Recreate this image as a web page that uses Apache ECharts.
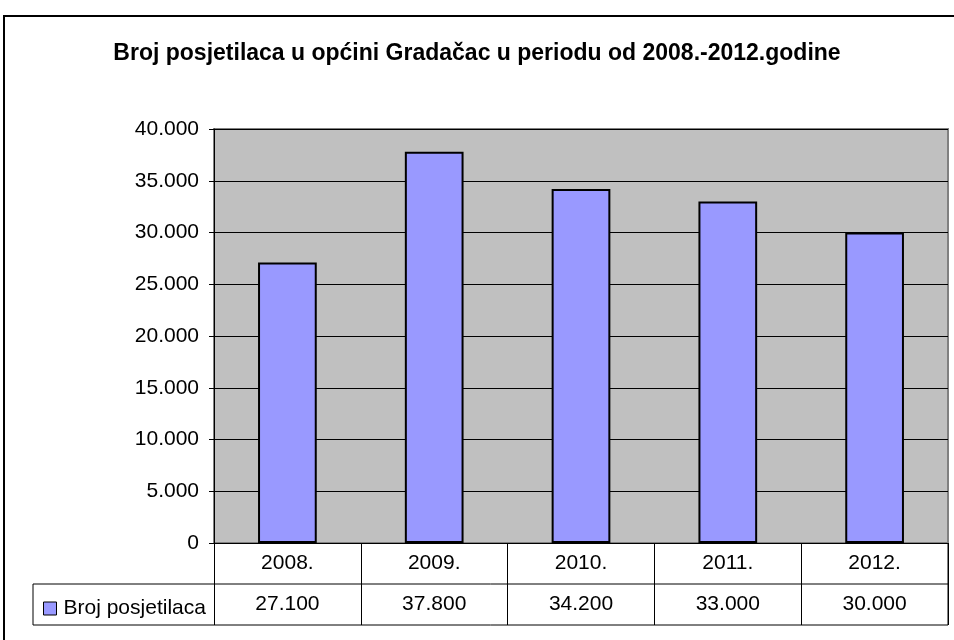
<!DOCTYPE html>
<html>
<head>
<meta charset="utf-8">
<title>Broj posjetilaca</title>
<script src="https://cdn.jsdelivr.net/npm/echarts@6/dist/echarts.min.js"></script>
<style>
html, body{
    margin: 0;
    padding: 0;
    background-color: #fff;
}
#chart{
    width: 954px;
    height: 640px;
}
</style>
</head>
<body>
<div id="chart"></div>
<script>
var years = ['2008.', '2009.', '2010.', '2011.', '2012.'];
var visitors = [27100, 37800, 34200, 33000, 30000];
var seriesName = 'Broj posjetilaca';
var yTicks = { min: 0, max: 40000, interval: 5000 };

// 27100 -> "27.100"
function fmt(v){
    return String(v).replace(/\B(?=(\d{3})+(?!\d))/g, '.');
}

var font = '"Liberation Sans", Arial, sans-serif';
var gridLeft = 214, gridRight = 6, gridTop = 129, gridBottom = 97;
var plotBottom = 640 - gridBottom; // 543
var rowH = 41;
var tableLeft = 33;

var chart = echarts.init(document.getElementById('chart'));
chart.setOption({
    animation: false,
    textStyle: { fontFamily: font },
    title: {
        text: 'Broj posjetilaca u općini Gradačac u periodu od 2008.-2012.godine',
        left: 'center',
        top: 37,
        textStyle: { fontSize: 23, fontWeight: 'bold', color: '#000', fontFamily: font }
    },
    legend: {
        left: tableLeft + 5,
        top: plotBottom + rowH + 9,
        itemWidth: 13,
        itemHeight: 13,
        itemGap: 6,
        icon: 'rect',
        data: [seriesName],
        itemStyle: { borderColor: '#000', borderWidth: 1 },
        textStyle: { fontSize: 21, color: '#000', fontFamily: font, padding: [0, 0, 0, 2] }
    },
    grid: {
        left: gridLeft,
        right: gridRight,
        top: gridTop,
        bottom: gridBottom,
        show: true,
        backgroundColor: '#c0c0c0',
        borderColor: '#808080',
        borderWidth: 2
    },
    xAxis: [
        {
            type: 'category',
            data: years,
            position: 'bottom',
            axisLine: { lineStyle: { color: '#000', width: 1 } },
            axisTick: { show: true, inside: false, length: rowH * 2, lineStyle: { color: '#000', width: 1 } },
            axisLabel: { fontSize: 21, color: '#000', margin: 10 }
        },
        {
            type: 'category',
            data: years,
            position: 'bottom',
            offset: rowH,
            axisLine: { show: false },
            axisTick: { show: false },
            axisLabel: {
                fontSize: 21,
                color: '#000',
                margin: 10,
                formatter: function(v, i){ return fmt(visitors[i]); }
            }
        }
    ],
    yAxis: {
        type: 'value',
        min: yTicks.min,
        max: yTicks.max,
        interval: yTicks.interval,
        axisLine: { show: true, lineStyle: { color: '#000', width: 1 } },
        axisTick: { show: true, length: 5, lineStyle: { color: '#000' } },
        axisLabel: { fontSize: 21, color: '#000', margin: 15, formatter: function(v){ return fmt(v); } },
        splitLine: { show: true, lineStyle: { color: '#000', width: 1 } }
    },
    series: [
        {
            name: seriesName,
            type: 'bar',
            data: visitors,
            barWidth: '40%',
            itemStyle: { color: '#9999ff', borderColor: '#000', borderWidth: 2 }
        }
    ],
    graphic: [
        // outer chart frame
        { type: 'rect', shape: { x: 4, y: 16, width: 960, height: 640 }, style: { fill: null, stroke: '#000', lineWidth: 2 }, silent: true },
        // data table lines
        { type: 'line', shape: { x1: tableLeft, y1: plotBottom + rowH, x2: 954 - gridRight, y2: plotBottom + rowH }, style: { stroke: '#000', lineWidth: 1 } },
        { type: 'line', shape: { x1: tableLeft, y1: plotBottom + rowH * 2, x2: 954 - gridRight, y2: plotBottom + rowH * 2 }, style: { stroke: '#000', lineWidth: 1 } },
        { type: 'line', shape: { x1: tableLeft, y1: plotBottom + rowH, x2: tableLeft, y2: plotBottom + rowH * 2 }, style: { stroke: '#000', lineWidth: 1 } },
        { type: 'line', shape: { x1: 954 - gridRight, y1: plotBottom, x2: 954 - gridRight, y2: plotBottom + rowH * 2 }, style: { stroke: '#000', lineWidth: 1 } }
    ]
});
</script>
</body>
</html>
